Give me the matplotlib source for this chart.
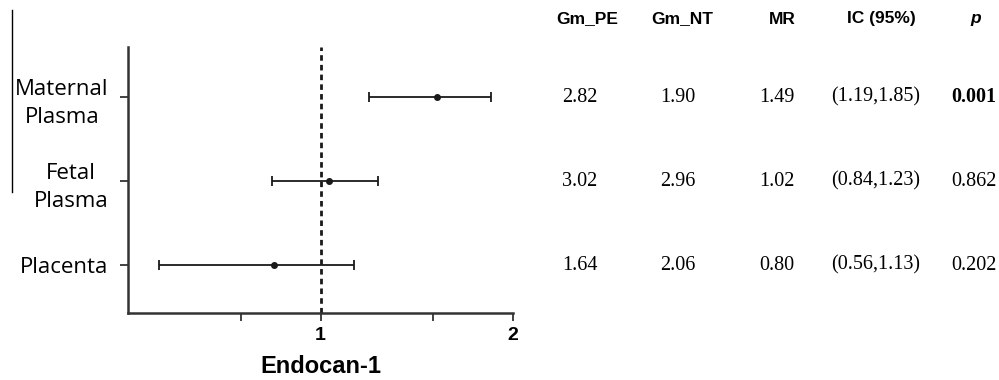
import matplotlib
matplotlib.use("Agg")
import matplotlib.pyplot as plt
import matplotlib.transforms as mtransforms
from matplotlib.lines import Line2D
from matplotlib.ticker import FixedLocator, NullFormatter

# rows, top to bottom
tissues = ["Maternal\nPlasma", "Fetal\nPlasma", "Placenta"]
# plotted estimates and 95% CI (as drawn)
est = [1.52, 1.03, 0.845]
ci_low = [1.19, 0.84, 0.56]
ci_high = [1.85, 1.23, 1.13]

# table columns
headers = ["Gm_PE", "Gm_NT", "MR", "IC (95%)", "p"]
gm_pe = ["2.82", "3.02", "1.64"]
gm_nt = ["1.90", "2.96", "2.06"]
mr = ["1.49", "1.02", "0.80"]
ic = ["(1.19,1.85)", "(0.84,1.23)", "(0.56,1.13)"]
pval = ["0.001", "0.862", "0.202"]

W, H = 999, 380
fig = plt.figure(figsize=(W / 100, H / 100), dpi=100)
ax = fig.add_axes([128 / W, 1 - 313 / H, (513 - 128) / W, (313 - 47) / H])

ypos = [3, 2, 1]
dark = "#1a1a1a"

lo = [e - l for e, l in zip(est, ci_low)]
hi = [h - e for e, h in zip(est, ci_high)]
ax.errorbar(est, ypos, xerr=[lo, hi], fmt="o", color=dark, ms=4,
            elinewidth=1.3, capsize=3.5, capthick=1.3, zorder=3)
ax.axvline(1, color=dark, lw=2, ls=(0, (2, 1.5)), zorder=2)

ax.set_xscale("log")
ax.set_xlim(0.5, 2)
ax.set_ylim(0.43, 3.6)
ax.xaxis.set_major_locator(FixedLocator([1, 2]))
ax.xaxis.set_minor_locator(FixedLocator([0.75, 1.5]))
ax.xaxis.set_minor_formatter(NullFormatter())
ax.set_xticklabels(["1", "2"], fontsize=14, fontweight="bold",
                   family="Liberation Sans")
ax.set_yticks(ypos)
ax.set_yticklabels(tissues, fontsize=16, family="Open Sans",
                   multialignment="center", linespacing=1.45)
ax.set_xlabel("Endocan-1", fontsize=17, fontweight="bold",
              family="Liberation Sans", labelpad=8)

for s in ["top", "right"]:
    ax.spines[s].set_visible(False)
for s in ["left", "bottom"]:
    ax.spines[s].set_linewidth(1.8)
    ax.spines[s].set_color("#333333")
ax.tick_params(axis="y", length=6, width=1.3, color="#333333", pad=8)
ax.tick_params(axis="x", which="both", length=6, width=1.3,
               color="#333333", pad=4)

# table to the right
hx = [587, 682, 782, 881, 976]
vx = [580, 678, 777, 876, 974]
for x, h in zip(hx, headers):
    style = "italic" if h == "p" else "normal"
    fig.text(x / W, 1 - 19 / H, h, ha="center", va="center", fontsize=12.5,
             fontweight="bold", fontstyle=style, family="Liberation Sans")

trans = mtransforms.blended_transform_factory(fig.transFigure, ax.transData)
cols = [gm_pe, gm_nt, mr, ic, pval]
for x, col in zip(vx, cols):
    for y, v in zip(ypos, col):
        weight = "bold" if col is pval and float(v) < 0.05 else "normal"
        ax.text(x / W, y, v, transform=trans, ha="center", va="center",
                fontsize=14.5, fontweight=weight, family="Liberation Serif",
                clip_on=False)

# stray vertical rule at the far left
fig.add_artist(Line2D([12 / W, 12 / W], [1 - 10 / H, 1 - 192 / H],
                      color="black", lw=1))

fig.savefig("out.png", dpi=100)
